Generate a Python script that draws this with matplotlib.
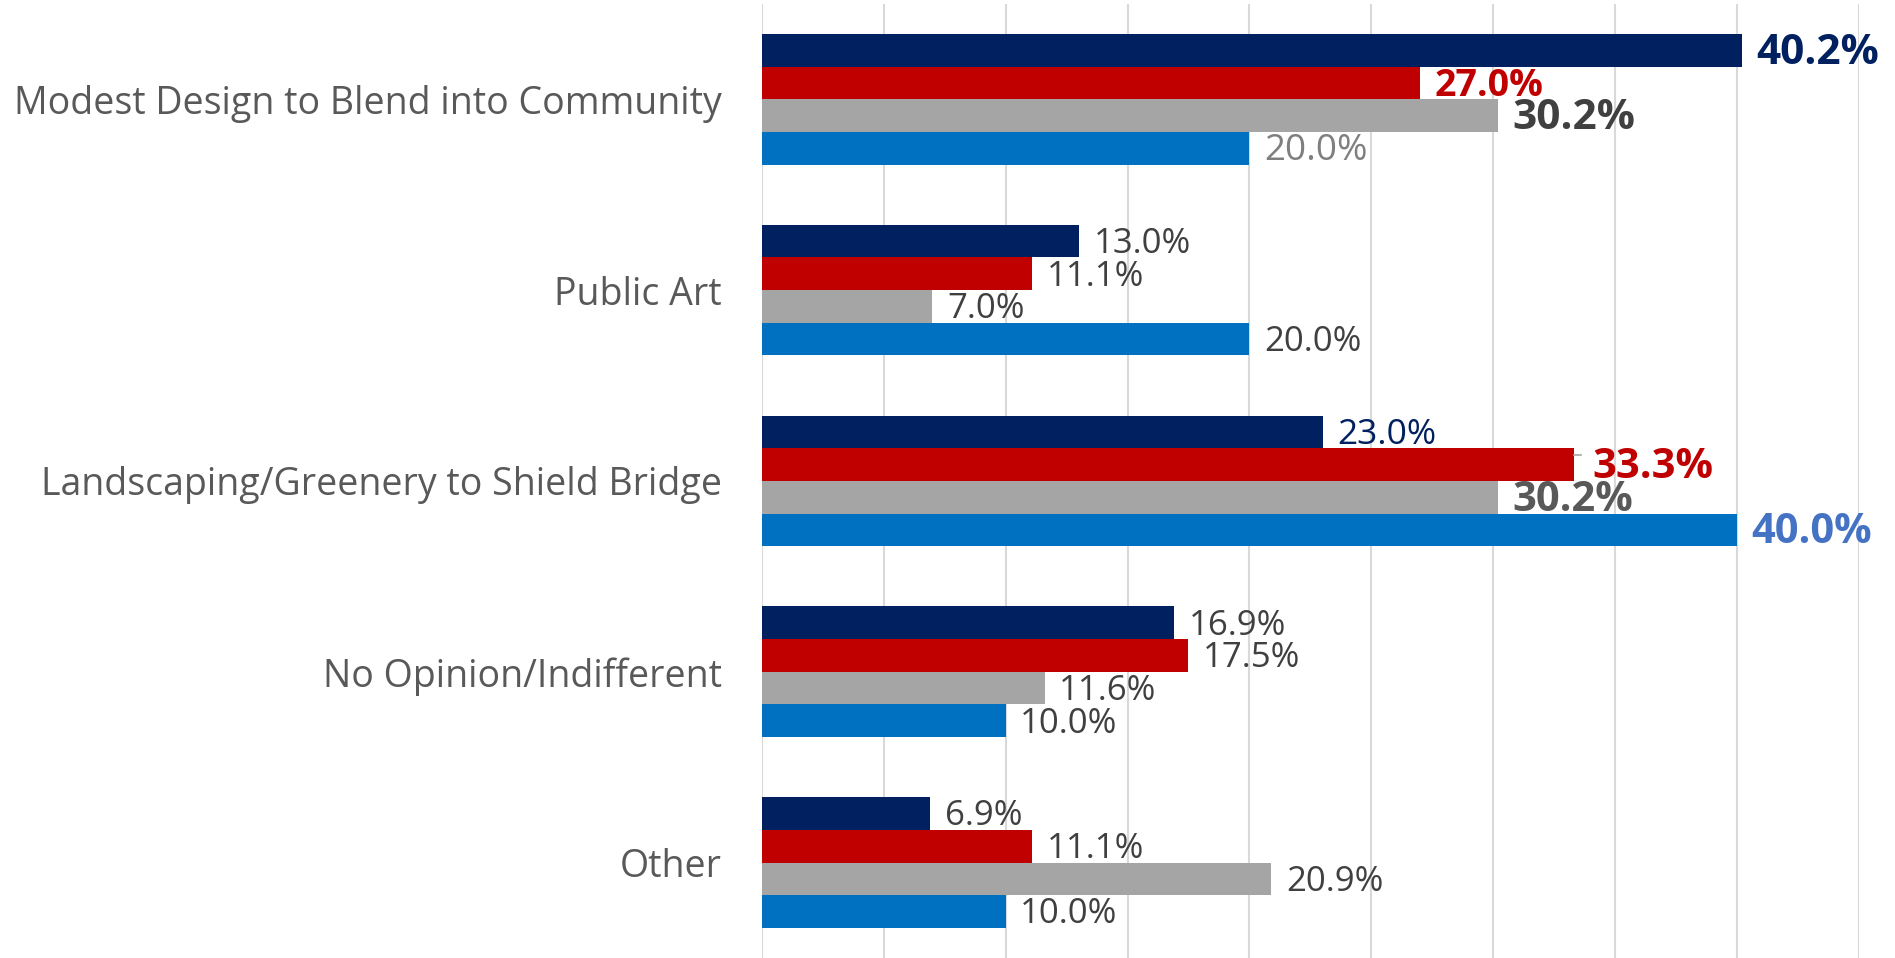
import numpy as np
import matplotlib.pyplot as plt

categories = [
    "Modest Design to Blend into Community",
    "Public Art",
    "Landscaping/Greenery to Shield Bridge",
    "No Opinion/Indifferent",
    "Other",
]
navy_vals = [40.2, 13.0, 23.0, 16.9, 6.9]
red_vals = [27.0, 11.1, 33.3, 17.5, 11.1]
gray_vals = [30.2, 7.0, 30.2, 11.6, 20.9]
blue_vals = [20.0, 20.0, 40.0, 10.0, 10.0]

series = [navy_vals, red_vals, gray_vals, blue_vals]
colors = ["#002060", "#C00000", "#A5A5A5", "#0070C0"]

# -- per-label style overrides (series index, category index) -> (color, weight, size)
default_style = ("#404040", "normal", 25)
label_styles = {
    (0, 0): ("#002060", "bold", 30.5),
    (1, 0): ("#C00000", "bold", 27),
    (2, 0): ("#404040", "bold", 30.5),
    (3, 0): ("#7F7F7F", "normal", 26.5),
    (0, 2): ("#002060", "normal", 25.5),
    (1, 2): ("#C00000", "bold", 30),
    (2, 2): ("#595959", "bold", 30),
    (3, 2): ("#4472C4", "bold", 30),
}

plt.rcParams["font.family"] = ["Open Sans", "DejaVu Sans"]

fig = plt.figure(figsize=(18.95, 9.58), dpi=100)
ax = fig.add_axes([0.402, 0.0, 0.579, 0.996])

bar_h = 0.171
y = np.arange(len(categories))
for i, (vals, col) in enumerate(zip(series, colors)):
    ypos = y - 1.5 * bar_h + i * bar_h
    ax.barh(ypos, vals, height=bar_h, color=col, zorder=3)
    for j, v in enumerate(vals):
        c, w, s = label_styles.get((i, j), default_style)
        dx = 0.6
        if (i, j) == (1, 2):
            dx = 0.75
            ax.plot([v, v + 0.3], [ypos[j] - 0.05, ypos[j] - 0.05], color="#A5A5A5", lw=1.2, zorder=4)
        ax.text(v + dx, ypos[j] + 0.015, f"{v:.1f}%", color=c, fontweight=w, fontsize=s,
                va="center", ha="left", zorder=5)

ax.set_xlim(0, 45)
ax.set_ylim(len(categories) - 0.5, -0.5)
ax.set_xticks(np.arange(0, 46, 5))
ax.xaxis.grid(True, color="#D9D9D9", lw=1.5, zorder=0)
ax.tick_params(axis="x", length=0, labelbottom=False)
ax.tick_params(axis="y", length=0, pad=29)
ax.set_yticks(y)
ax.set_yticklabels(categories, fontsize=27, color="#595959")
for sp in ax.spines.values():
    sp.set_visible(False)

fig.savefig("out.png", dpi=100)
